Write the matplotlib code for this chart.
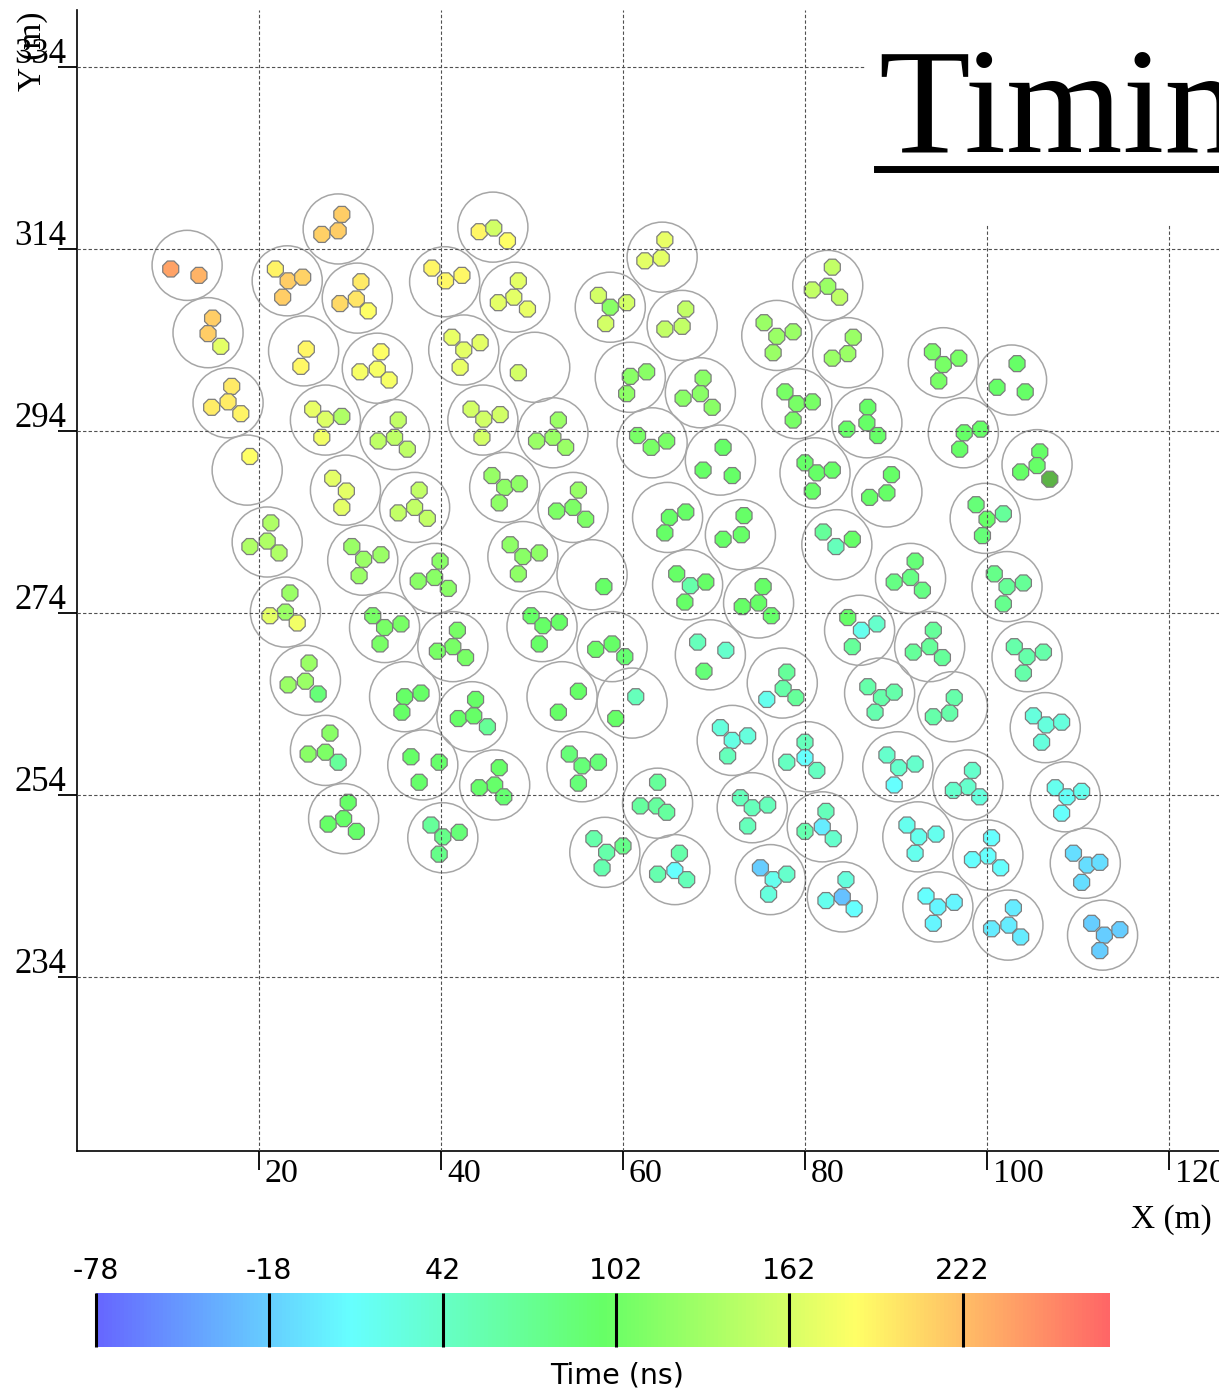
import numpy as np
import matplotlib
matplotlib.use("Agg")
import matplotlib.pyplot as plt
from matplotlib.colors import ListedColormap, Normalize, hsv_to_rgb
from matplotlib.patches import Circle, Rectangle
from matplotlib.lines import Line2D

plt.rcParams["axes.unicode_minus"] = False

# station centres (m)
station_x = [12.1, 28.7, 23.1, 30.8, 14.4, 24.9, 33.0, 16.6, 40.4, 45.7,
             42.5, 44.6, 27.3, 34.9, 18.7, 48.1, 50.3, 58.6, 64.3, 66.5,
             60.8, 68.5, 76.9, 82.5, 52.3, 63.2, 70.7, 79.1, 84.7, 95.2,
             102.7, 86.8, 97.4, 105.5, 29.5, 37.1, 20.9, 31.4, 39.3, 22.9,
             33.8, 41.3, 25.1, 36.0, 43.4, 81.1, 89.0, 83.5, 99.8, 91.6,
             102.2, 86.0, 93.7, 104.4, 88.2, 96.2, 106.4, 47.0, 54.5, 49.0,
             56.6, 64.9, 72.9, 67.1, 74.9, 51.1, 58.8, 69.6, 77.5, 53.3,
             61.0, 27.3, 29.3, 38.0, 40.2, 55.5, 45.9, 63.8, 58.0, 65.7,
             72.0, 74.2, 76.2, 80.3, 90.2, 97.9, 108.6, 81.9, 92.4, 100.1,
             110.8, 84.1, 94.6, 102.3, 112.7]
station_y = [312.2, 316.2, 310.5, 308.6, 304.8, 302.8, 300.9, 297.1, 310.4, 316.4,
             302.9, 295.2, 295.2, 293.6, 289.7, 308.7, 301.0, 307.6, 313.1, 305.6,
             299.9, 298.2, 304.5, 310.0, 293.8, 292.7, 290.8, 297.0, 302.6, 301.5,
             299.6, 294.9, 293.8, 290.3, 287.5, 285.6, 281.8, 279.8, 277.8, 274.1,
             272.4, 270.3, 266.6, 264.8, 262.6, 289.4, 287.3, 281.5, 284.4, 277.8,
             276.9, 272.1, 270.3, 269.2, 265.2, 263.7, 261.4, 287.8, 285.6, 280.2,
             278.2, 284.5, 282.6, 277.1, 275.1, 272.5, 270.3, 269.4, 266.3, 264.8,
             264.1, 258.9, 251.4, 257.3, 249.3, 257.1, 255.1, 253.1, 247.7, 245.8,
             260.0, 252.6, 244.7, 258.2, 257.1, 255.1, 253.8, 250.5, 249.4, 247.4,
             246.5, 242.8, 241.7, 239.7, 238.6]

# detectors of each station: x (m), y (m), arrival time (ns); nan = no timing
det_x = [
    [10.3, 13.4], [29.1, 28.7, 26.9], [21.8, 23.2, 24.8, 22.6], [31.2, 30.7, 28.9, 32.0],
    [14.9, 14.4, 15.8], [25.2, 24.6], [33.4, 33.0, 31.1, 34.3], [17.0, 16.6, 14.8, 18.0],
    [39.0, 40.5, 42.3], [44.2, 45.8, 47.3], [41.2, 42.5, 44.3, 42.1], [43.3, 44.7, 46.5, 44.5],
    [25.9, 27.3, 29.1, 26.9], [35.3, 34.9, 33.1, 36.3], [19.0], [48.5, 48.0, 46.3, 49.5],
    [48.5], [57.3, 58.6, 60.4, 58.1], [64.6, 64.2, 62.4], [66.9, 66.5, 64.6],
    [62.6, 60.8, 60.4], [68.8, 68.5, 66.6, 69.8], [75.5, 76.9, 78.7, 76.5], [83.0, 82.5, 80.8, 83.8],
    [52.9, 52.3, 50.5, 53.7], [61.6, 63.1, 64.8], [71.0, 68.8, 72.0], [77.8, 79.1, 80.8, 78.7],
    [85.3, 84.7, 83.0], [94.0, 95.2, 96.9, 94.7], [103.3, 101.1, 104.2], [86.9, 86.8, 84.6, 88.0],
    [99.3, 97.5, 97.0], [105.8, 105.5, 103.7, 106.9], [28.1, 29.6, 29.1], [37.6, 37.1, 35.3, 38.5],
    [21.3, 20.9, 19.0, 22.2], [30.2, 31.5, 33.4, 31.0], [39.9, 39.3, 37.5, 40.8], [23.4, 22.9, 21.2, 24.2],
    [32.5, 33.8, 35.6, 33.3], [41.8, 41.3, 39.6, 42.7], [25.5, 25.1, 23.2, 26.5], [37.8, 36.0, 35.7],
    [43.8, 41.9, 43.6, 45.1], [80.0, 81.3, 83.0, 80.8], [89.5, 89.0, 87.1], [82.0, 83.4, 85.2],
    [98.8, 100.0, 101.8, 99.5], [92.1, 91.6, 89.8, 92.9], [100.8, 102.2, 104.0, 101.8], [84.7, 86.2, 87.9, 85.2],
    [94.1, 93.7, 91.9, 95.1], [103.0, 104.4, 106.2, 104.0], [86.9, 88.4, 89.8, 87.7], [96.4, 95.9, 94.1],
    [105.1, 106.5, 108.2, 106.0], [45.6, 47.0, 48.6, 46.4], [55.1, 54.5, 52.7, 55.9], [47.6, 49.0, 50.8, 48.5],
    [57.9], [66.9, 65.1, 64.6], [73.3, 73.0, 71.0], [65.9, 67.4, 69.1, 66.8],
    [75.4, 74.9, 73.1, 76.3], [49.9, 51.2, 53.0, 50.8], [57.0, 58.8, 60.2], [68.2, 71.3, 68.9],
    [78.0, 77.6, 75.8, 79.0], [55.1, 52.9], [61.4, 59.2], [27.8, 27.3, 25.4, 28.7],
    [29.8, 29.3, 27.6, 30.7], [36.7, 39.8, 37.6], [38.9, 40.2, 42.0, 39.8], [54.1, 55.5, 57.3, 55.1],
    [46.4, 45.9, 44.2, 46.9], [63.8, 61.9, 63.7, 64.8], [56.8, 58.2, 60.0, 57.7], [66.2, 65.7, 63.8, 67.0],
    [70.7, 72.0, 73.7, 71.5], [72.9, 74.2, 75.9, 73.7], [75.1, 76.5, 78.0, 76.0], [80.0, 80.0, 81.3, 78.0],
    [89.0, 90.3, 92.1, 89.8], [98.4, 97.9, 96.3, 99.2], [107.5, 108.8, 110.4, 108.2], [82.3, 81.9, 80.0, 83.1],
    [91.2, 92.5, 94.4, 92.1], [100.5, 100.1, 98.4, 101.5], [109.5, 111.0, 112.4, 110.4], [84.5, 84.1, 82.3, 85.4],
    [93.3, 94.6, 96.4, 94.1], [102.9, 102.4, 100.5, 103.7], [111.5, 112.9, 114.6, 112.4],
]
det_y = [
    [311.8, 311.1], [317.8, 316.0, 315.6], [311.8, 310.5, 310.9, 308.7], [310.4, 308.5, 308.0, 307.2],
    [306.4, 304.7, 303.3], [303.0, 301.1], [302.7, 300.8, 300.5, 299.6], [298.9, 297.2, 296.6, 295.9],
    [311.9, 310.5, 311.1], [315.9, 316.3, 314.9], [304.3, 302.9, 303.7, 301.0], [296.4, 295.3, 295.8, 293.3],
    [296.4, 295.3, 295.6, 293.3], [295.2, 293.3, 292.9, 292.0], [291.2], [310.5, 308.7, 308.1, 307.4],
    [300.4], [308.9, 307.6, 308.1, 305.8], [315.0, 313.0, 312.7], [307.4, 305.5, 305.2],
    [300.5, 300.0, 298.1], [299.8, 298.1, 297.6, 296.6], [305.9, 304.4, 304.9, 302.6], [312.0, 309.9, 309.5, 308.7],
    [295.2, 293.3, 292.9, 292.2], [293.5, 292.2, 292.9], [292.2, 289.7, 289.1], [298.3, 297.0, 297.2, 295.2],
    [304.3, 302.5, 302.0], [302.7, 301.3, 302.0, 299.5], [301.4, 298.8, 298.3], [296.6, 294.9, 294.2, 293.5],
    [294.2, 293.8, 292.0], [291.7, 290.2, 289.5, 288.7], [288.8, 287.4, 285.6], [287.5, 285.6, 285.0, 284.4],
    [283.9, 281.9, 281.3, 280.6], [281.3, 279.9, 280.4, 278.1], [279.7, 277.9, 277.5, 276.7], [276.2, 274.1, 273.7, 272.9],
    [273.7, 272.4, 272.8, 270.6], [272.1, 270.3, 269.8, 269.1], [268.5, 266.5, 266.1, 265.1], [265.2, 264.8, 263.1],
    [264.5, 262.4, 262.7, 261.5], [290.5, 289.4, 289.7, 287.4], [289.2, 287.2, 286.7], [282.9, 281.3, 282.1],
    [285.9, 284.3, 284.9, 282.5], [279.7, 277.9, 277.4, 276.5], [278.3, 276.9, 277.3, 275.0], [273.5, 272.1, 272.8, 270.3],
    [272.1, 270.3, 269.7, 269.1], [270.3, 269.2, 269.7, 267.4], [265.9, 264.7, 265.3, 263.1], [264.7, 263.0, 262.6],
    [262.7, 261.7, 262.0, 259.8], [289.1, 287.8, 288.2, 286.1], [287.5, 285.6, 285.2, 284.3], [281.5, 280.2, 280.6, 278.3],
    [276.9], [285.1, 284.5, 282.8], [284.7, 282.6, 282.1], [278.3, 277.0, 277.4, 275.2],
    [276.9, 275.1, 274.7, 273.7], [273.7, 272.6, 273.0, 270.6], [270.0, 270.6, 269.2], [270.8, 269.9, 267.6],
    [267.5, 265.7, 264.5, 264.7], [265.4, 263.1], [264.8, 262.4], [260.8, 258.7, 258.5, 257.6],
    [253.2, 251.4, 250.8, 250.0], [258.2, 257.6, 255.4], [250.7, 249.4, 249.9, 247.5], [258.5, 257.2, 257.6, 255.3],
    [257.0, 255.1, 254.8, 253.8], [255.4, 252.8, 252.8, 252.1], [249.2, 247.7, 248.4, 246.0], [247.6, 245.7, 245.3, 244.7],
    [261.4, 260.0, 260.5, 258.3], [253.7, 252.6, 252.9, 250.6], [246.0, 244.7, 245.3, 243.1], [259.8, 258.1, 256.7, 257.6],
    [258.4, 257.0, 257.4, 255.1], [256.7, 254.9, 254.5, 253.8], [254.8, 253.8, 254.4, 252.0], [252.2, 250.5, 250.0, 249.2],
    [250.7, 249.4, 249.7, 247.6], [249.3, 247.3, 246.9, 246.0], [247.6, 246.3, 246.6, 244.4], [244.7, 242.8, 242.4, 241.5],
    [242.9, 241.7, 242.2, 239.9], [241.6, 239.7, 239.3, 238.4], [239.9, 238.6, 239.2, 236.9],
]
det_t = [
    [238, 228], [214, 214, 212], [191, 214, 210, 214], [197, 200, 207, 185],
    [214, 214, 170], [190, 188], [185, 180, 180, 180], [197, 195, 195, 192],
    [190, 188, 188], [190, 158, 185], [172, 170, 170, 172], [160, 158, 158, 160],
    [172, 165, 140, 178], [150, 147, 147, 147], [185], [170, 170, 170, 172],
    [160], [160, 117, 160, 160], [172, 170, 170], [150, 150, 150],
    [117, 117, 120], [117, 117, 117, 117], [127, 127, 127, 127], [150, 127, 150, 147],
    [127, 127, 127, 127], [108, 108, 108], [97, 97, 97], [108, 108, 108, 108],
    [127, 127, 127], [108, 108, 108, 108], [97, 97, 97], [97, 97, 97, 97],
    [97, 97, 97], [97, 97, 97, np.nan], [170, 170, 170], [150, 150, 150, 150],
    [140, 140, 140, 140], [127, 127, 127, 127], [117, 117, 117, 117], [127, 127, 170, 178],
    [108, 108, 108, 108], [108, 108, 108, 108], [127, 127, 127, 87], [97, 97, 97],
    [97, 97, 97, 70], [97, 97, 97, 97], [97, 97, 97], [68, 49, 97],
    [87, 97, 68, 87], [87, 80, 80, 80], [78, 70, 70, 75], [97, 20, 39, 68],
    [68, 68, 68, 68], [58, 58, 58, 58], [58, 58, 58, 55], [58, 58, 58],
    [29, 29, 29, 29], [125, 120, 120, 120], [125, 110, 110, 110], [120, 118, 120, 120],
    [97], [97, 97, 97], [97, 97, 97], [97, 58, 97, 97],
    [97, 97, 97, 95], [97, 97, 97, 97], [100, 97, 92], [49, 39, 87],
    [68, 60, 20, 68], [97, 97], [49, 97], [117, 110, 117, 68],
    [97, 97, 97, 95], [97, 95, 95], [68, 78, 87, 78], [87, 87, 87, 87],
    [97, 95, 95, 92], [68, 65, 65, 65], [58, 58, 78, 55], [58, 10, 55, 50],
    [29, 25, 29, 49], [49, 49, 49, 49], [-19, 20, 39, 29], [49, 10, 45, 45],
    [39, 39, 39, 10], [39, 39, 39, 29], [20, 15, 20, 12], [49, 0, 55, 39],
    [20, 20, 20, 20], [10, 10, 10, 10], [-9, -9, -9, -9], [29, -25, 20, 10],
    [10, 5, 5, 5], [0, 0, 0, 0], [-19, -19, -19, -19],
]

x_ticks = [20, 40, 60, 80, 100, 120]
y_ticks = [234, 254, 274, 294, 314, 334]
cbar_ticks = [-78, -18, 42, 102, 162, 222]
t_min, t_max = -78, 273
station_radius = 3.85

xs = np.concatenate(det_x)
ys = np.concatenate(det_y)
ts = np.concatenate(det_t).astype(float)

# pastel rainbow: hue runs from blue to red
hues = np.linspace(2 / 3, 0, 256)
rgb = hsv_to_rgb(np.column_stack([hues, np.full(256, 0.6), np.ones(256)]))
cmap = ListedColormap(rgb)
cmap.set_bad("#5cb346")

W, H = 1219, 1392
fig = plt.figure(figsize=(W / 100, H / 100), dpi=100)
ax = fig.add_axes([77 / W, (H - 1151) / H, 1183 / W, 1141 / H])
ax.set_xlim(0, 130)
ax.set_ylim(214.88, 340.26)

for cx, cy in zip(station_x, station_y):
    ax.add_patch(Circle((cx, cy), station_radius, fill=False,
                        edgecolor="#a6a6a6", lw=1.1, zorder=1.5))

sc = ax.scatter(xs, ys, c=ts, cmap=cmap, norm=Normalize(t_min, t_max),
                s=155, marker="8", edgecolors="#7d7d7d", linewidths=0.9,
                plotnonfinite=True, zorder=2)

ax.set_xticks(x_ticks)
ax.set_yticks(y_ticks)
ax.set_axisbelow(False)
ax.grid(True, color="#505050", lw=0.8, ls=(0, (3, 2)))
for side in ("top", "right"):
    ax.spines[side].set_visible(False)
for side in ("left", "bottom"):
    ax.spines[side].set_linewidth(1.2)
ax.tick_params(direction="out", length=14, width=1.3,
               labelbottom=False, labelleft=False)

serif = "Liberation Serif"
for v in x_ticks:
    ax.annotate(str(v), xy=(v, 0), xycoords=("data", "axes fraction"),
                xytext=(6, -31), textcoords="offset pixels",
                ha="left", va="baseline", family=serif, fontsize=24.5)
for v in y_ticks:
    ax.annotate(str(v), xy=(14 / W, v), xycoords=("figure fraction", "data"),
                xytext=(0, 4), textcoords="offset pixels",
                ha="left", va="baseline", family=serif, fontsize=25)

fig.text(33 / W, 1 - 51 / H, "Y (m)", rotation=90, ha="center", va="center",
         family=serif, fontsize=24)
fig.text(1171 / W, 1 - 1220 / H, "X (m)", ha="center", va="center",
         family=serif, fontsize=24)

# title sits on a white box over the top right of the plot
fig.add_artist(Rectangle((866 / W, 1 - 224 / H), 1 - 866 / W, 224 / H,
                         transform=fig.transFigure, facecolor="white",
                         edgecolor="none", zorder=5))
fig.text(878 / W, 1 - 152 / H, "Timing", ha="left", va="baseline",
         family=serif, fontsize=108, zorder=6)
fig.add_artist(Line2D([877 / W, 1], [1 - 169 / H, 1 - 169 / H], lw=5,
                      color="black", transform=fig.transFigure, zorder=6))

cax = fig.add_axes([96 / W, 45 / H, 1014 / W, 54 / H])
cb = fig.colorbar(sc, cax=cax, orientation="horizontal", ticks=cbar_ticks)
cb.outline.set_visible(False)
cax.xaxis.set_ticks_position("top")
cax.xaxis.set_label_position("bottom")
cax.tick_params(axis="x", direction="in", length=54 * 0.72, width=2.2,
                color="black", pad=6, labelsize=20.5)
cb.set_label("Time (ns)", fontsize=20.5)
cax.xaxis.set_label_coords(0.514, -0.26)

fig.savefig("out.png", dpi=100)
